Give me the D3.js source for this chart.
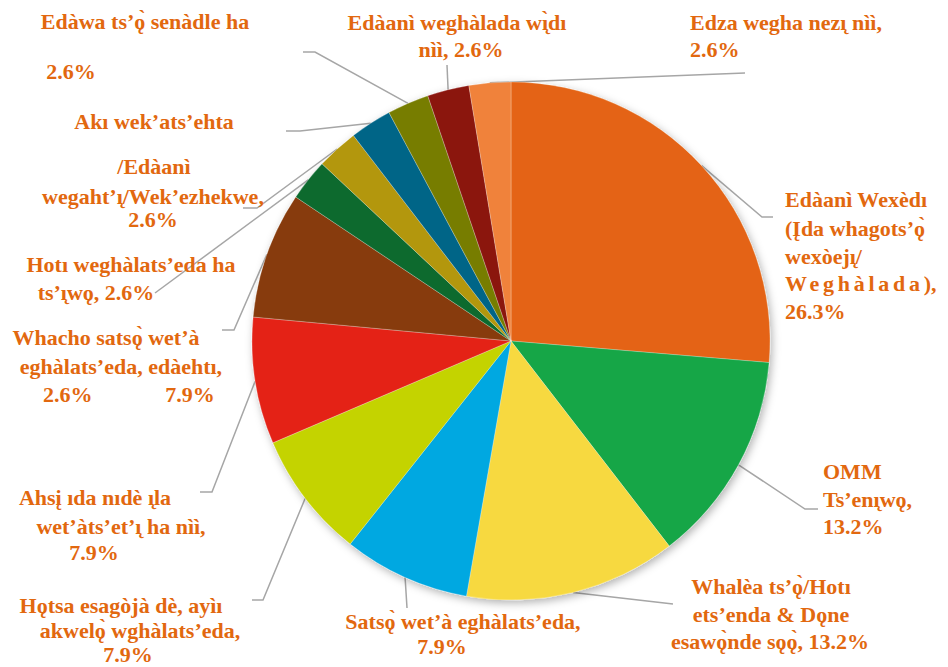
<!DOCTYPE html>
<html><head><meta charset="utf-8">
<script src="https://cdn.jsdelivr.net/npm/d3@7"></script>
<style>
html,body{margin:0;padding:0;background:#fff;}
svg{display:block;}
text{font-family:"Liberation Serif","Times New Roman",serif;font-weight:bold;font-size:22px;fill:#E2680F;}
</style></head>
<body>
<svg id="chart" width="948" height="667"></svg>
<script>
// ---- data ----
const categories = [
  "Edàanì Wexèdı (Įda whagots’ǫ̀ wexòejı̨/ Weghàlada)",
  "OMM Ts’enı̨wǫ",
  "Whalèa ts’ǫ̀/Hotı ets’enda & Dǫne esawǫ̀nde sǫǫ̀",
  "Satsǫ̀ wet’à eghàlats’eda",
  "Hǫtsa esagòjà dè, ayìı akwelǫ̀ wghàlats’eda",
  "Ahsį ıda nıdè ı̨la wet’àts’et’ı̨ ha nìì",
  "Whacho satsǫ̀ wet’à eghàlats’eda, edàehtı",
  "Hotı weghàlats’eda ha ts’ı̨wǫ",
  "/Edàanì wegaht’ı̨/Wek’ezhekwe",
  "Akı wek’ats’ehta",
  "Edàwa ts’ǫ̀ senàdle ha",
  "Edàanì weghàlada wı̨̀dı nìì",
  "Edza wegha nezı̨ nìì"
];
const values = [26.3, 13.2, 13.2, 7.9, 7.9, 7.9, 7.9, 2.6, 2.6, 2.6, 2.6, 2.6, 2.6];
const percentLabels = ["26.3%","13.2%","13.2%","7.9%","7.9%","7.9%","7.9%","2.6%","2.6%","2.6%","2.6%","2.6%","2.6%"];
const labelLines = [
  ["Edàanì Wexèdı","(Įda whagots’ǫ̀","wexòejı̨/","Weghàlada)","26.3%"],
  ["OMM","Ts’enı̨wǫ,","13.2%"],
  ["Whalèa ts’ǫ̀/Hotı","ets’enda & Dǫne","esawǫ̀nde sǫǫ̀, 13.2%"],
  ["Satsǫ̀ wet’à eghàlats’eda,","7.9%"],
  ["Hǫtsa esagòjà dè, ayìı","akwelǫ̀ wghàlats’eda,","7.9%"],
  ["Ahsį ıda nıdè ı̨la","wet’àts’et’ı̨ ha nìì,","7.9%"],
  ["Whacho satsǫ̀ wet’à","eghàlats’eda, edàehtı,","7.9%"],
  ["Hotı weghàlats’eda ha","ts’ı̨wǫ, 2.6%"],
  ["/Edàanì","wegaht’ı̨/Wek’ezhekwe,","2.6%"],
  ["Akı wek’ats’ehta","2.6%"],
  ["Edàwa ts’ǫ̀ senàdle ha","2.6%"],
  ["Edàanì weghàlada wı̨̀dı","nìì, 2.6%"],
  ["Edza wegha nezı̨ nìì,","2.6%"]
];

// ---- styles / layout ----
const colors = ["#E46412","#12A646","#F7D940","#00A8E1","#C4D300","#E42419","#873B0B",
                "#0B6A2E","#B3970C","#006587","#777D00","#8B140E","#F0823A"];
const cx = 511, cy = 341, R = 259;

// label line positions: [x, centerY] per line, per slice
const labelLayout = [
  {anchor:"start", pts:[[785,200],[785,229],[785,257],[785,284],[785,312]], stretch:{3:146}, suffix:{3:","}},
  {anchor:"start", pts:[[823,472],[823,500],[823,527]]},
  {anchor:"middle", pts:[[771,587],[771,615],[770,642]]},
  {anchor:"middle", pts:[[463,622],[442,647]]},
  {anchor:"middle", pts:[[121,605.5],[140,630.5],[128,655]]},
  {anchor:"middle", pts:[[95,498],[121,527],[94,553]]},
  {anchor:"middle", pts:[[106,338],[121,367],[190,395]]},
  {anchor:"middle", pts:[[131,265],[96,293]]},
  {anchor:"middle", pts:[[154,167],[153,197],[153,220]]},
  {anchor:"middle", pts:[[154,122],[43,395]], anchors:{1:"start"}},
  {anchor:"middle", pts:[[145,22],[71,72]]},
  {anchor:"middle", pts:[[457,23],[461,50]]},
  {anchor:"start", pts:[[690,23],[690,50]]}
];
// leader-line points after the arc point, per slice
const leaderLayout = [
  [[762,217],[773,217]],
  [[805,509],[818,509]],
  [[673,604]],
  [[407,608]],
  [[263,600],[252,600]],
  [[212,492],[200,492]],
  [[234,330],[222,330]],
  [[155,293]],
  [[257,208],[243,208]],
  [[300,131],[286,131]],
  [[315,52],[303,52]],
  [[447,65]],
  [[745,73]]
];

const svg = d3.select("#chart");
const defs = svg.append("defs");
const f = defs.append("filter").attr("id","shadow").attr("x","-20%").attr("y","-20%").attr("width","140%").attr("height","140%");
f.append("feDropShadow").attr("dx",2).attr("dy",3).attr("stdDeviation",4).attr("flood-color","#000").attr("flood-opacity",0.3);

const pie = d3.pie().sort(null).value(d => d).startAngle(0).endAngle(2*Math.PI);
const arcs = pie(values);
const arc = d3.arc().innerRadius(0).outerRadius(R);
const edgeArc = d3.arc().innerRadius(R).outerRadius(R);

// leader lines (under pie)
const line = d3.line();
svg.append("g").selectAll("path").data(arcs).join("path")
  .attr("d", (d,i) => {
    const p = edgeArc.centroid(d);
    const pts = [[cx+p[0], cy+p[1]], ...leaderLayout[i]];
    return line(pts);
  })
  .attr("fill","none").attr("stroke","#A6A6A6").attr("stroke-width",1.5);

// pie
const g = svg.append("g").attr("transform",`translate(${cx},${cy})`);
g.append("g").attr("filter","url(#shadow)").selectAll("path").data(arcs).join("path")
  .attr("d", arc)
  .attr("fill", (d,i) => colors[i])
  .attr("stroke","#ffffff").attr("stroke-width",0.5).attr("stroke-opacity",0.5);

// labels
const lg = svg.append("g");
labelLines.forEach((lines, i) => {
  const L = labelLayout[i];
  lines.forEach((t, j) => {
    const [x, y] = L.pts[j];
    const anchor = (L.anchors && L.anchors[j]) || L.anchor;
    const tx = lg.append("text").attr("x", x).attr("y", y + 7)
      .attr("text-anchor", anchor).text(t);
    if (L.stretch && L.stretch[j]) {
      tx.attr("textLength", L.stretch[j]).attr("lengthAdjust","spacing");
      if (L.suffix && L.suffix[j]) {
        lg.append("text").attr("x", x + L.stretch[j]).attr("y", y + 7).text(L.suffix[j]);
      }
    }
  });
});
</script>
</body></html>
